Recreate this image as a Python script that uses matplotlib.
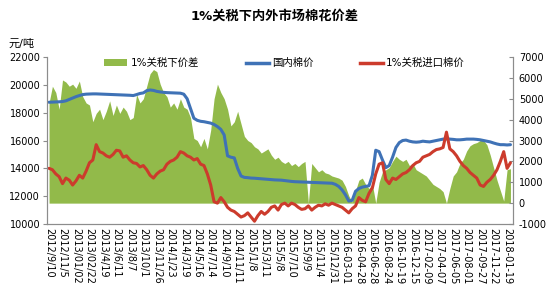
import matplotlib
matplotlib.use("Agg")
import matplotlib.pyplot as plt
from matplotlib.patches import Patch
from matplotlib.lines import Line2D
import numpy as np

plt.rcParams['font.family'] = ['DejaVu Sans', 'Noto Sans CJK SC']
plt.rcParams['axes.unicode_minus'] = False

title = "1%关税下内外市场棉花价差"
unit_label = "元/吨"
series_names = ["1%关税下价差", "国内棉价", "1%关税进口棉价"]

tick_labels = ["2012/9/10", "2012/11/5", "2013/01/02", "2013/02/22", "2013/4/19", "2013/6/11",
               "2013/8/7", "2013/10/1", "2013/11/26", "2014/1/23", "2014/3/19", "2014/5/16",
               "2014/7/14", "2014/9/10", "2014/11/11", "2015/1/8", "2015/3/11", "2015/5/8",
               "2015/7/10", "2015/9/9", "2015/11/4", "2015/12/31", "2016-03-01", "2016-04-28",
               "2016-06-28", "2016-08-24", "2016-10-19", "2016-12-15", "2017-02-09", "2017-04-07",
               "2017-06-05", "2017-08-01", "2017-09-27", "2017-11-22", "2018-01-19"]

domestic = [18750, 18760, 18770, 18780, 18800, 18850, 18950, 19050, 19150, 19230,
            19300, 19330, 19340, 19350, 19350, 19340, 19330, 19320, 19310, 19300,
            19290, 19280, 19270, 19260, 19250, 19230, 19300, 19380, 19420, 19580,
            19630, 19600, 19530, 19490, 19460, 19440, 19430, 19420, 19410, 19400,
            19330, 19000, 18300, 17600, 17450, 17380, 17350, 17300, 17250, 17150,
            17000, 16800, 16400, 14900, 14800, 14750, 14000, 13450, 13350, 13330,
            13300, 13290, 13270, 13250, 13230, 13210, 13190, 13170, 13160, 13150,
            13120, 13090, 13060, 13040, 13030, 13020, 13010, 13000, 12990, 12980,
            12970, 12960, 12950, 12940, 12930, 12850, 12700, 12450, 12100, 11650,
            11700, 12350, 12550, 12650, 12700, 12750, 13500, 15300, 15200, 14600,
            14050, 14200, 14800, 15500, 15850, 16000, 16030, 15950, 15900, 15880,
            15900, 15950, 15920, 15900, 15950, 16000, 16050, 16100, 16120, 16100,
            16080, 16050, 16050, 16070, 16100, 16100, 16100, 16080, 16050, 16000,
            15950, 15900, 15820, 15750, 15700, 15700, 15680, 15700]

imported = [14000, 13900, 13600, 13400, 12900, 13300, 13150, 12800, 13100, 13500,
            13300, 13800, 14400, 14600, 15700, 15200, 15100, 14900, 14800, 15000,
            15300, 15250, 14800, 14900, 14600, 14400, 14350, 14100, 14200, 13900,
            13500, 13300, 13600, 13800, 13900, 14300, 14500, 14600, 14800, 15200,
            15100, 14900, 14800, 14600, 14700, 14300, 14200, 13600, 12800, 11600,
            11500, 11900, 11600, 11200, 11000, 10900, 10700, 10500, 10600, 10800,
            10500, 10200, 10600, 10900, 10700, 10900, 11200, 11300, 11000, 11400,
            11500, 11300, 11500, 11400, 11200, 11050, 11100, 11300, 11000, 11200,
            11350, 11300, 11450, 11350, 11500, 11400, 11300, 11200, 11000, 10800,
            11100, 11300, 11900, 11700, 11600, 12200, 12600, 13600, 14300, 14400,
            13200, 12900, 13300, 13200, 13400, 13600, 13700, 13900, 14200, 14400,
            14500, 14800, 14900, 15000, 15200, 15350, 15400, 15500, 16600, 15400,
            15200, 14900, 14500, 14200, 14000, 13700, 13500, 13300, 12800, 12700,
            13000, 13200, 13500, 13900, 14500, 15200, 14000, 14400]

spread = [4800, 5600, 5300, 4500, 5900, 5800, 5600, 5700, 5500, 5850,
          5100, 4800, 4700, 3900, 4300, 4500, 4000, 4400, 4900, 4200,
          4700, 4300, 4600, 4400, 4000, 4100, 5200, 4800, 5000, 5600,
          6200, 6400, 6300, 5700, 5300, 5100, 4600, 4800, 4500, 5000,
          4600, 4500, 4100, 3100, 3000, 2700, 3100, 2600, 3500, 5000,
          5700, 5300, 5000, 4500, 3700, 3900, 4400, 3800, 3200, 3000,
          2900, 2700, 2600, 2400, 2500, 2600, 2300, 2100, 2200, 2000,
          1900, 2000, 1800, 1900, 1750, 1900, 2000, 0, 1900, 1700,
          1500, 1600, 1450, 1400, 1300, 1250, 1200, 1100, 800, 350,
          50, 600, 1100, 1200, 900, 700, 900, 0, 1000, 1500,
          1600, 1700, 2000, 2250, 2100, 2000, 2100, 1800, 1900, 1600,
          1500, 1400, 1300, 1100, 900, 800, 700, 550, 0, 700,
          1300, 1500, 1900, 2100, 2500, 2750, 2850, 2900, 3000, 3000,
          2800, 2300, 1700, 1100, 600, 100, 1600, 1650]

green = '#92BA4A'
blue = '#3F72B6'
red = '#CC3B2C'
grey = '#8C8C8C'

n = len(domestic)
x = np.arange(n)
step = 4

fig = plt.figure(figsize=(5.5, 3.0), dpi=100)
ax = fig.add_axes([0.0855, 0.2533, 0.8475, 0.5567])
ax2 = ax.twinx()

ax.fill_between(x, 0, spread, color=green, linewidth=0)
ax.set_ylim(-1000, 7000)
ax.set_yticks(np.arange(-1000, 7001, 1000))

ax2.plot(x, domestic, color=blue, lw=2.2, solid_capstyle='round')
ax2.plot(x, imported, color=red, lw=2.2, solid_capstyle='round')
ax2.set_ylim(10000, 22000)
ax2.set_yticks(np.arange(10000, 22001, 2000))

# swap sides: spread axis on the right, price axis on the left
ax.yaxis.tick_right()
ax.yaxis.set_label_position('right')
ax2.yaxis.tick_left()
ax2.yaxis.set_label_position('left')
ax.tick_params(axis='y', labelsize=7, length=3, color=grey, pad=4, direction='in')
ax2.tick_params(axis='y', labelsize=7, length=3, color=grey, pad=2)

ax.set_xlim(-0.6, n - 0.2)
ax.set_xticks(x[::step][:len(tick_labels)])
ax.set_xticklabels(tick_labels, rotation=270, fontsize=7, va='top', ha='center')
ax.tick_params(axis='x', length=0, pad=3)

for a in (ax, ax2):
    a.spines['top'].set_visible(False)
    for s in ('left', 'right', 'bottom'):
        a.spines[s].set_color(grey)
        a.spines[s].set_linewidth(0.8)

fig.text(0.5, 0.945, title, ha='center', va='center', fontsize=9.5, fontweight='bold')
fig.text(0.015, 0.855, unit_label, ha='left', va='center', fontsize=8)

handles = [Patch(facecolor=green, edgecolor='none'),
           Line2D([0], [0], color=blue, lw=2.5),
           Line2D([0], [0], color=red, lw=2.5)]
ax2.legend(handles, series_names, loc='upper center', bbox_to_anchor=(0.51, 1.05), ncol=3,
           frameon=False, fontsize=7.5, handlelength=2.2, handletextpad=0.3, columnspacing=4.5)

fig.savefig('out.png', dpi=100)
